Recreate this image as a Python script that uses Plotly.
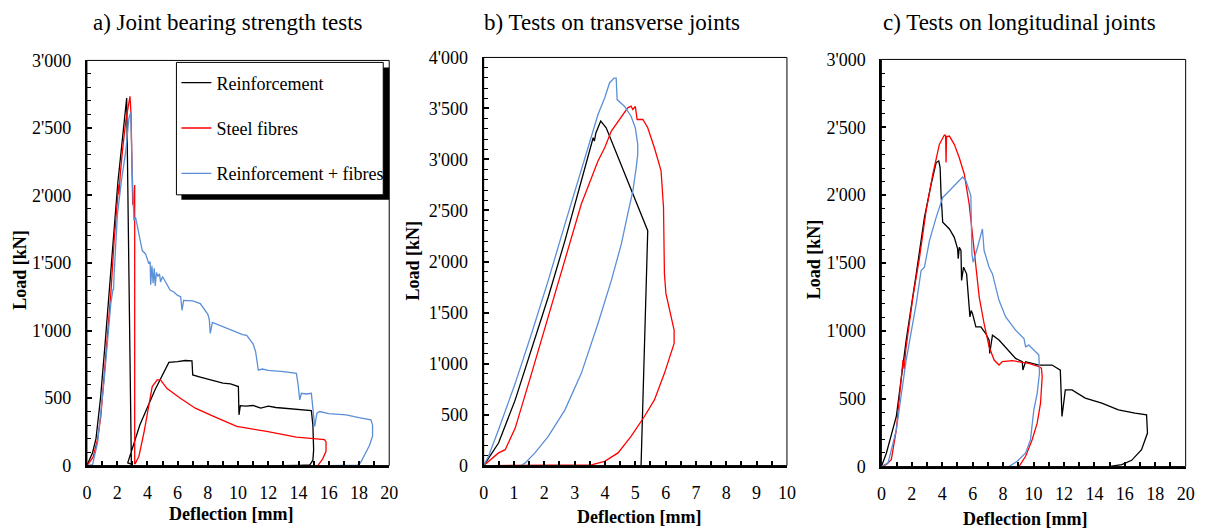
import plotly.graph_objects as go

# ---------------- data: a) Joint bearing strength tests ----------------
a_reinf_x = [0, 0.37, 0.6, 0.9, 1.2, 1.5, 1.8, 2.05, 2.3, 2.5, 2.63, 2.78, 2.94, 2.7, 3.5, 4.5, 5.42,
             6.0, 6.5, 6.95, 7.0, 7.5, 8.0, 8.5, 9.0, 9.5, 9.9, 10.02, 10.06, 10.15, 10.5, 11, 11.5, 12,
             12.5, 13, 13.5, 14, 14.5, 14.85, 14.95, 15.0, 14.95, 14.75, 14.0, 12.8]
a_reinf_y = [0, 95, 200, 500, 900, 1350, 1750, 2100, 2380, 2620, 2722, 1400, 10, 20, 300, 560, 764,
             770, 778, 776, 671, 655, 640, 630, 610, 605, 590, 585, 376, 444, 440, 445, 425, 440,
             430, 425, 420, 415, 410, 407, 300, 118, 40, 5, 2, 0]

a_fibre_x = [0, 0.4, 0.7, 0.92, 1.2, 1.58, 1.8, 2.02, 2.1, 2.13, 2.2, 2.35, 2.57, 2.85, 2.92, 3.0, 3.03,
             3.1, 3.16, 3.16, 3.2, 3.44, 3.77, 4.32, 4.65, 4.87, 5.3, 6.18, 7.17, 8.38, 9.91, 11.89,
             13.86, 15.72, 15.82, 15.82, 15.6, 15.28, 12.76]
a_fibre_y = [0, 60, 192, 364, 750, 1273, 1666, 1961, 2080, 2010, 2150, 2330, 2550, 2734, 2600, 2100,
             1936, 1930, 2078, 15, 15, 69, 243, 585, 634, 634, 570, 499, 425, 364, 290, 253, 211, 192,
             175, 105, 50, 0, 0]

a_both_x = [0, 0.37, 0.7, 1.14, 1.58, 1.73, 1.76, 1.8, 2.02, 2.28, 2.57, 2.78, 2.9, 3.0, 3.08, 3.11,
            3.22, 3.44, 3.66, 3.88, 4.1, 4.18, 4.22, 4.3, 4.38, 4.45, 4.52, 4.6, 4.7, 4.8, 4.87, 5.0,
            5.3, 5.5, 5.75, 6.0, 6.2, 6.29, 6.4, 7.0, 7.5, 8.0, 8.1, 8.16, 8.3, 9.0, 9.7, 10.3, 10.57,
            11.0, 11.16, 11.34, 11.6, 12, 13, 13.86, 13.97, 14.08, 14.19, 14.5, 14.85, 14.96, 15.07,
            15.22, 15.39, 16.0, 17.15, 18.0, 18.79, 18.9, 18.9, 18.7, 18.4, 18.1, 17.9, 16.0]
a_both_y = [0, 7, 167, 634, 1199, 1309, 1300, 1420, 1862, 2108, 2329, 2575, 2612, 2157, 1850, 1813,
            1838, 1715, 1592, 1567, 1494, 1510, 1340, 1480, 1350, 1460, 1330, 1430, 1400, 1420, 1360,
            1400, 1335, 1300, 1285, 1260, 1250, 1150, 1223, 1220, 1200, 1120, 1080, 978, 1060, 1030,
            1000, 970, 965, 900, 843, 707, 715, 705, 695, 683, 600, 486, 535, 530, 535, 388, 290,
            388, 400, 385, 376, 355, 339, 300, 220, 150, 80, 20, 3, 0]

# ---------------- data: b) Tests on transverse joints ----------------
b_reinf_x = [0, 0.49, 1.04, 1.58, 2.13, 2.68, 3.22, 3.61, 3.65, 3.7, 3.86, 4.04, 5.41, 5.19]
b_reinf_y = [0, 221, 644, 1132, 1652, 2205, 2790, 3213, 3180, 3260, 3376, 3311, 2302, 0]

b_fibre_x = [0, 0.49, 0.71, 1.04, 1.58, 2.13, 2.68, 3.22, 3.77, 3.99, 4.21, 4.43, 4.75, 4.86, 4.92,
             5.0, 5.06, 5.25, 5.41, 5.63, 5.85, 5.93, 5.96, 6.01, 6.17, 6.28, 6.28, 6.17, 5.96, 5.63,
             5.3, 4.86, 4.43, 3.99, 3.55, 0.3]
b_fibre_y = [0, 124, 156, 367, 904, 1457, 2010, 2563, 2985, 3115, 3278, 3376, 3506, 3522, 3490,
             3520, 3392, 3392, 3311, 3115, 2888, 2530, 1880, 1685, 1457, 1327, 1197, 1099, 904, 644,
             481, 286, 124, 42, 7, 0]

b_both_x = [0, 0.16, 0.49, 1.04, 1.58, 2.13, 2.68, 3.22, 3.77, 3.99, 4.15, 4.3, 4.37, 4.4, 4.64, 4.86,
            5.0, 5.08, 5.08, 5.03, 4.92, 4.75, 4.54, 4.21, 3.77, 3.22, 2.68, 2.13, 1.69, 1.37, 1.23]
b_both_y = [0, 91, 351, 806, 1294, 1815, 2367, 2888, 3441, 3603, 3750, 3798, 3798, 3587, 3522, 3424,
            3311, 3148, 3050, 2920, 2693, 2465, 2172, 1815, 1392, 904, 546, 286, 124, 26, 0]

# ---------------- data: c) Tests on longitudinal joints ----------------
c_reinf_x = [0, 0.33, 0.98, 1.63, 2.29, 2.83, 3.27, 3.6, 3.77, 3.86, 3.92, 4.03, 4.47, 4.79, 5.01,
             5.05, 5.12, 5.23, 5.27, 5.4, 5.6, 5.73, 5.82, 5.9, 5.99, 6.21, 6.54, 6.86, 7.08, 7.12,
             7.3, 7.73, 8.39, 8.82, 9.26, 9.3, 9.48, 10.35, 11.22, 11.76, 11.87, 12.09, 12.53, 13.4,
             14.49, 15.58, 16.67, 17.43, 17.49, 17.1, 16.45, 15.8, 14.92]
c_reinf_y = [0, 100, 369, 932, 1420, 1836, 2081, 2240, 2252, 2203, 2007, 1800, 1751, 1689, 1604,
             1531, 1616, 1592, 1372, 1469, 1420, 1200, 1103, 1150, 1127, 1029, 1029, 980, 932, 834,
             968, 932, 846, 797, 773, 711, 773, 748, 748, 711, 369, 565, 565, 504, 467, 418, 394,
             381, 247, 125, 46, 15, 0]

c_fibre_x = [0, 0.33, 0.65, 0.98, 1.42, 1.5, 1.6, 2.07, 2.51, 2.94, 3.38, 3.81, 4.14, 4.22, 4.25,
             4.28, 4.47, 4.79, 5.12, 5.45, 5.77, 5.99, 6.21, 6.43, 6.75, 7.08, 7.41, 7.73, 7.95,
             8.61, 9.69, 10.35, 10.52, 10.57, 10.46, 10.24, 9.91, 9.48, 9.04]
c_fibre_y = [0, 15, 51, 271, 785, 720, 860, 1249, 1543, 1885, 2154, 2374, 2443, 2440, 2240, 2430,
             2435, 2374, 2276, 2154, 1934, 1689, 1469, 1249, 1054, 883, 785, 748, 773, 780, 760,
             736, 724, 663, 467, 320, 198, 76, 0]

c_both_x = [0, 0.44, 0.98, 1.63, 2.29, 2.61, 2.83, 3.16, 3.6, 4.03, 4.47, 4.9, 5.34, 5.56, 5.88,
            5.95, 6.03, 6.32, 6.64, 6.75, 7.08, 7.3, 7.73, 8.17, 8.82, 9.37, 9.48, 9.69, 10.13,
            10.35, 10.39, 10.24, 10.02, 9.8, 9.48, 8.93, 8.39]
c_both_y = [0, 27, 271, 785, 1200, 1445, 1469, 1665, 1836, 1983, 2032, 2081, 2134, 2105, 1995, 1567,
            1506, 1616, 1751, 1592, 1469, 1420, 1225, 1103, 1005, 944, 883, 895, 846, 822, 687,
            540, 418, 198, 100, 39, 0]

# ---------------- labels ----------------
series_names = ["Reinforcement", "Steel fibres", "Reinforcement + fibres"]
panel_titles = ["a) Joint bearing strength tests", "b) Tests on transverse joints",
                "c) Tests on longitudinal joints"]
y_tick_vals_3000 = [0, 500, 1000, 1500, 2000, 2500, 3000]
y_tick_text_3000 = ["0", "500", "1'000", "1'500", "2'000", "2'500", "3'000"]
y_tick_vals_4000 = [0, 500, 1000, 1500, 2000, 2500, 3000, 3500, 4000]
y_tick_text_4000 = ["0", "500", "1'000", "1'500", "2'000", "2'500", "3'000", "3'500", "4'000"]
x_title = "Deflection [mm]"
y_title = "Load [kN]"

W, H = 1208, 529
FONT = "Liberation Serif, Times New Roman, serif"
colors = ["#000000", "#ff0000", "#5b8fd8"]

# the photographed page is slightly shrunk/offset; map target screen pixels to figure paper coords
AX, BX = 0.99405, 3.6
AY, BY = 0.9666, 8.34


def SX(p):
    return ((p - BX) / AX) / W


def SY(p):
    return 1 - ((p - BY) / AY) / H


fig = go.Figure()

panels = [
    ("x", "y", [(a_reinf_x, a_reinf_y), (a_fibre_x, a_fibre_y), (a_both_x, a_both_y)], True),
    ("x2", "y2", [(b_reinf_x, b_reinf_y), (b_fibre_x, b_fibre_y), (b_both_x, b_both_y)], False),
    ("x3", "y3", [(c_reinf_x, c_reinf_y), (c_fibre_x, c_fibre_y), (c_both_x, c_both_y)], False),
]
for xa, ya, series, show in panels:
    for i, (xs, ys) in enumerate(series):
        fig.add_trace(go.Scatter(
            x=xs, y=ys, mode="lines", xaxis=xa, yaxis=ya,
            line=dict(color=colors[i], width=1.3),
            name=series_names[i], legendgroup="g%d" % i, showlegend=show,
        ))

# plot-area screen pixel boxes (left, right, top, bottom)
boxes = [(86, 390, 59, 466), (485, 790, 56, 466), (885, 1191, 58, 467)]
xranges = [[0, 20], [0, 10], [0, 20]]
yranges = [[0, 3000], [0, 4000], [0, 3000]]
xdt = [(2, 1), (1, 0.5), (2, 1)]
ytv = [(y_tick_vals_3000, y_tick_text_3000), (y_tick_vals_4000, y_tick_text_4000),
       (y_tick_vals_3000, y_tick_text_3000)]

layout = dict(
    width=W, height=H, margin=dict(l=0, r=0, t=0, b=0),
    paper_bgcolor="white", plot_bgcolor="white",
    font=dict(family=FONT, size=18, color="black"),
    legend=dict(x=SX(176), y=SY(63), xanchor="left", yanchor="top",
                bgcolor="rgba(0,0,0,0)", borderwidth=0,
                font=dict(family=FONT, size=18, color="black"),
                tracegroupgap=19, traceorder="grouped"),
    showlegend=True,
)
shapes = []
annotations = []
title_x = [90, 483, 885]
for k, (l, r, t, b) in enumerate(boxes):
    sfx = "" if k == 0 else str(k + 1)
    layout["xaxis" + sfx] = dict(
        domain=[SX(l), SX(r)], range=xranges[k], anchor="y" + sfx,
        showline=True, linecolor="black", linewidth=2, mirror=False,
        showgrid=False, zeroline=False, ticks="inside", ticklen=5, tickwidth=1.5,
        tickcolor="black", dtick=xdt[k][0], tick0=0,
        minor=dict(dtick=xdt[k][1], tick0=0, ticks="inside", ticklen=5, tickwidth=1.5,
                   tickcolor="black"),
        tickfont=dict(family=FONT, size=18), ticklabelstandoff=10,
    )
    layout["yaxis" + sfx] = dict(
        domain=[SY(b), SY(t)], range=yranges[k], anchor="x" + sfx,
        showline=True, linecolor="black", linewidth=2, mirror=False,
        showgrid=False, zeroline=False, ticks="inside", ticklen=5, tickwidth=1.5,
        tickcolor="black", tickvals=ytv[k][0], ticktext=ytv[k][1],
        minor=dict(dtick=100, tick0=0, ticks="inside", ticklen=4, tickwidth=1.2,
                   tickcolor="black"),
        tickfont=dict(family=FONT, size=18), ticklabelstandoff=10,
    )
    shapes.append(dict(type="rect", xref="x%s domain" % sfx, yref="y%s domain" % sfx,
                       x0=0, x1=1, y0=0, y1=1, line=dict(color="black", width=1),
                       layer="above"))
    annotations.append(dict(text=panel_titles[k], x=SX(title_x[k]), y=SY(21),
                            xref="paper", yref="paper", xanchor="left", yanchor="middle",
                            showarrow=False, font=dict(family=FONT, size=23)))

# axis titles
xt_pos = [(231, 515), (641, 518), (1029, 520)]
yt_pos = [(19, 269), (413, 260), (817, 259)]
for (xx, yy) in xt_pos:
    annotations.append(dict(text="<b>%s</b>" % x_title, x=SX(xx), y=SY(yy), xref="paper",
                            yref="paper", xanchor="center", yanchor="middle", showarrow=False,
                            font=dict(family=FONT, size=18)))
for (xx, yy) in yt_pos:
    annotations.append(dict(text="<b>%s</b>" % y_title, x=SX(xx), y=SY(yy), xref="paper",
                            yref="paper", xanchor="center", yanchor="middle", showarrow=False,
                            textangle=-90, font=dict(family=FONT, size=18)))

# legend frame: drop shadow, then white box with black border
shapes.append(dict(type="rect", xref="paper", yref="paper",
                   x0=SX(181), x1=SX(390), y0=SY(199), y1=SY(66),
                   fillcolor="black", line=dict(width=0), layer="above"))
shapes.append(dict(type="rect", xref="paper", yref="paper",
                   x0=SX(176), x1=SX(384), y0=SY(194), y1=SY(61),
                   fillcolor="white", line=dict(color="black", width=1), layer="above"))

layout["shapes"] = shapes
layout["annotations"] = annotations
fig.update_layout(**layout)
fig.write_html("out.html")
